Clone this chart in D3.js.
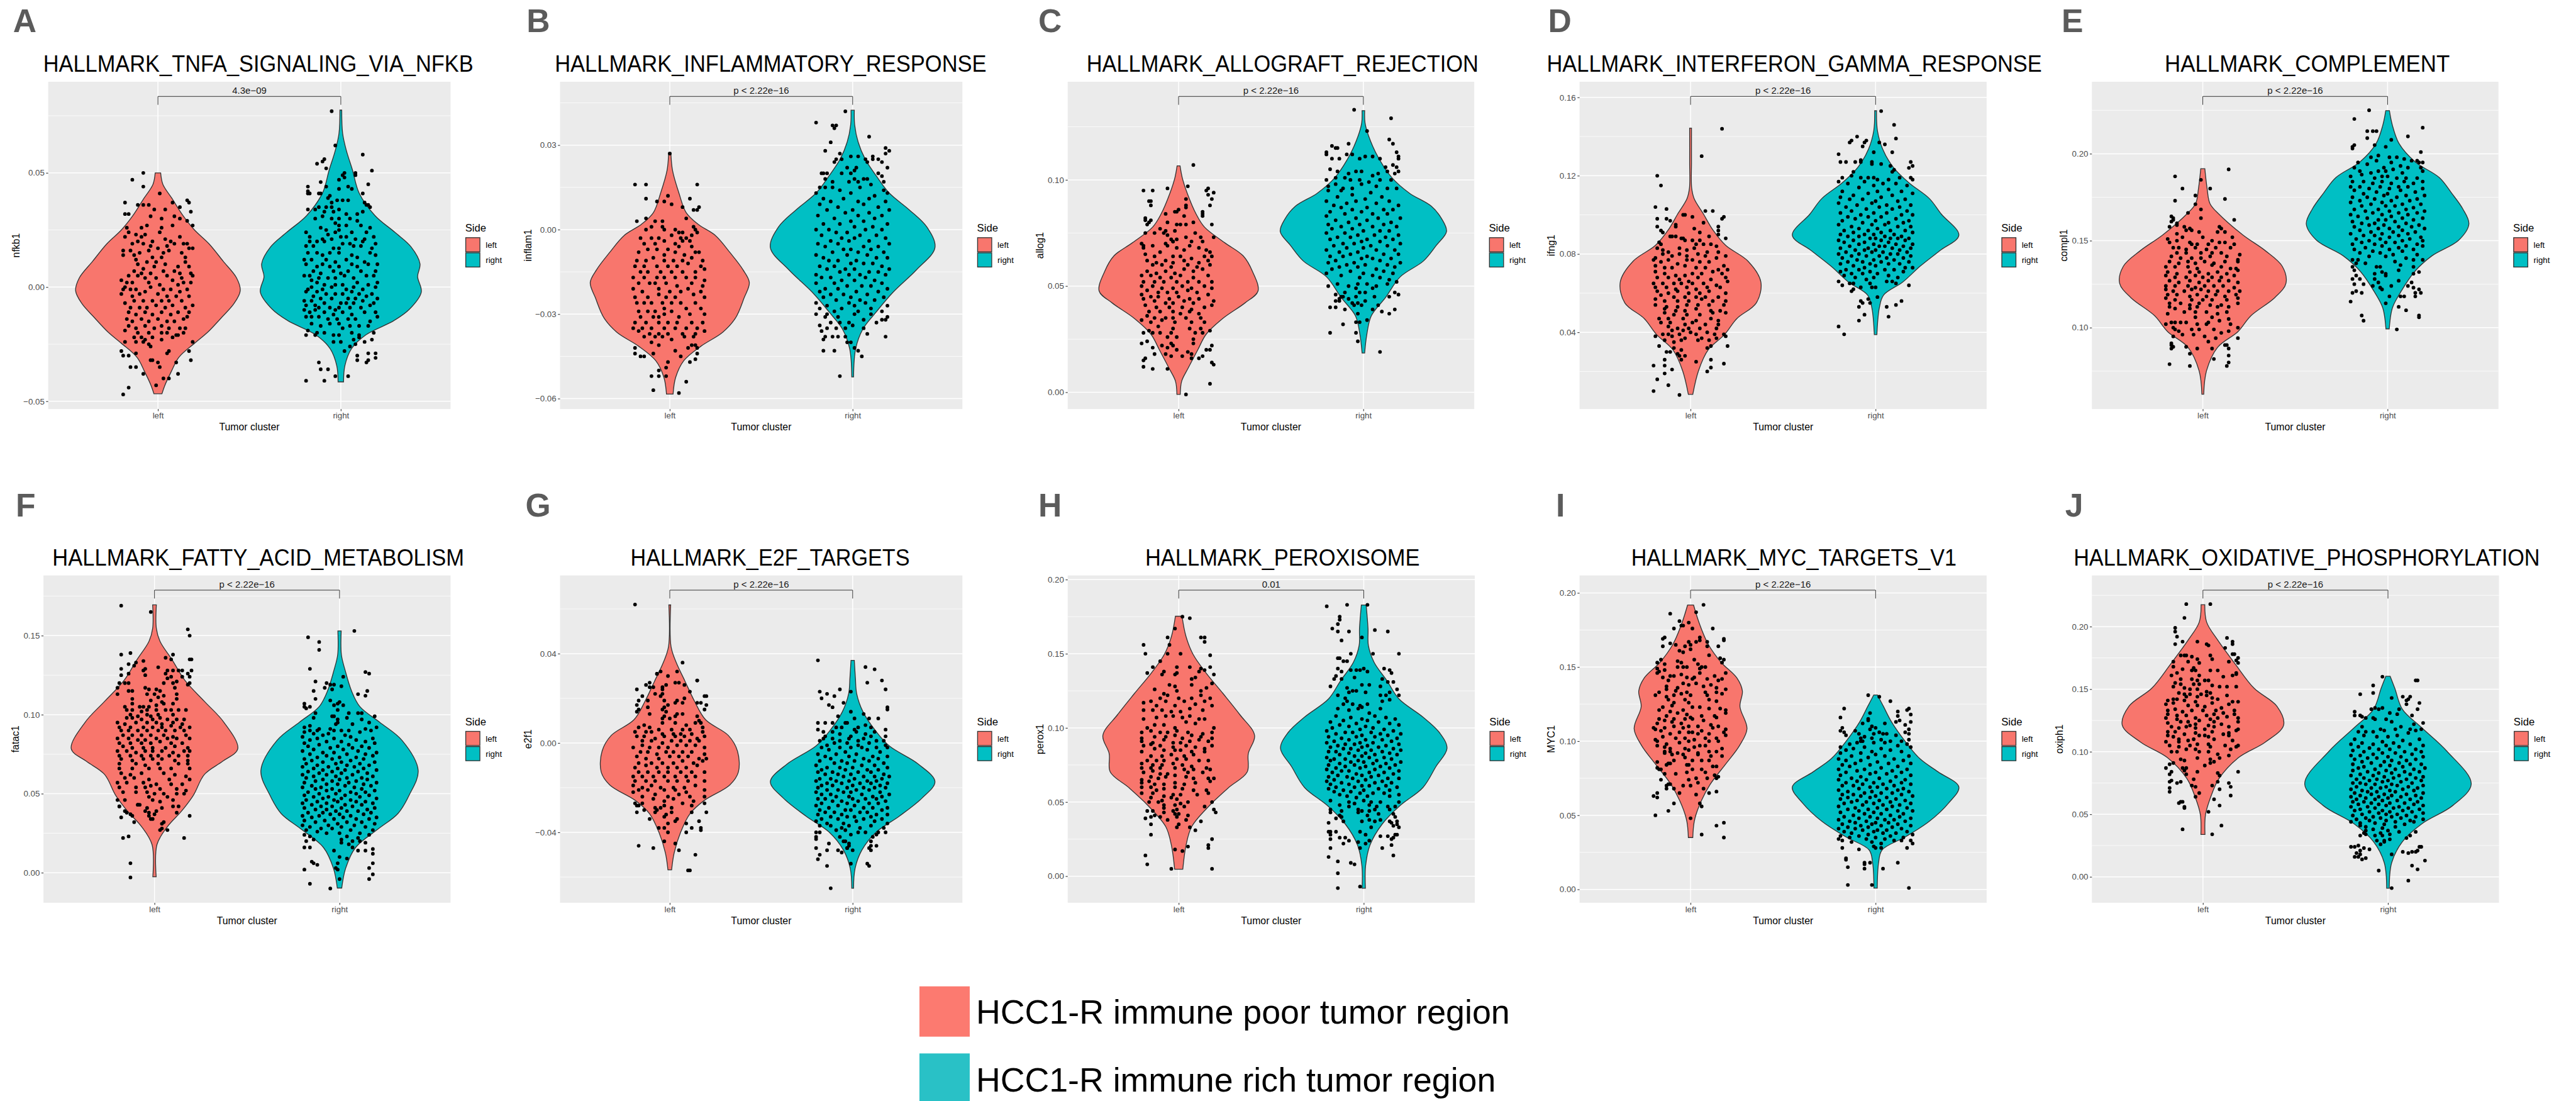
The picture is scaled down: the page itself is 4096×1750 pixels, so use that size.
<!DOCTYPE html>
<html lang="en">

<head>
  <meta charset="UTF-8">
  <title>Hallmark violins</title>
  <script src="https://d3js.org/d3.v7.min.js"></script>
  <style>
    html, body { margin: 0; padding: 0; background: #fff; }
    svg { display: block; }
    text { font-family: "Liberation Sans", Arial, sans-serif; }
  </style>
</head>

<body>
  <script>
    const letters = ["A", "B", "C", "D", "E", "F", "G", "H", "I", "J"];
    const titles = ["HALLMARK_TNFA_SIGNALING_VIA_NFKB", "HALLMARK_INFLAMMATORY_RESPONSE", "HALLMARK_ALLOGRAFT_REJECTION",
      "HALLMARK_INTERFERON_GAMMA_RESPONSE", "HALLMARK_COMPLEMENT", "HALLMARK_FATTY_ACID_METABOLISM", "HALLMARK_E2F_TARGETS",
      "HALLMARK_PEROXISOME", "HALLMARK_MYC_TARGETS_V1", "HALLMARK_OXIDATIVE_PHOSPHORYLATION"];
    const yLabels = ["nfkb1", "inflam1", "allog1", "ifng1", "compl1", "fatac1", "e2f1", "perox1", "MYC1", "oxiph1"];
    const pLabels = ["4.3e\u221209", "p < 2.22e\u221216", "p < 2.22e\u221216", "p < 2.22e\u221216", "p < 2.22e\u221216",
      "p < 2.22e\u221216", "p < 2.22e\u221216", "0.01", "p < 2.22e\u221216", "p < 2.22e\u221216"];
    const categories = ["left", "right"];
    const sideColors = ["#F8766D", "#00BFC4"];

    // y axes, values as on the picture
    const yDomains = [[-0.0534, 0.0899], [-0.0637, 0.0525], [-0.0079, 0.1462], [0.0008, 0.168], [0.0532, 0.2414],
      [-0.019, 0.1881], [-0.0715, 0.075], [-0.0179, 0.2028], [-0.009, 0.2118], [-0.0207, 0.2409]];
    const yTicks = [[-0.05, 0, 0.05], [-0.06, -0.03, 0, 0.03], [0, 0.05, 0.1], [0.04, 0.08, 0.12, 0.16], [0.1, 0.15, 0.2],
      [0, 0.05, 0.1, 0.15], [-0.04, 0, 0.04], [0, 0.05, 0.1, 0.15, 0.2], [0, 0.05, 0.1, 0.15, 0.2], [0, 0.05, 0.1, 0.15, 0.2]];
    const yMinor = [[-0.025, 0.025, 0.075], [-0.045, -0.015, 0.015, 0.045], [0.025, 0.075, 0.125], [0.02, 0.06, 0.1, 0.14],
      [0.075, 0.125, 0.175, 0.225], [0.025, 0.075, 0.125, 0.175], [-0.06, -0.02, 0.02, 0.06], [0.025, 0.075, 0.125, 0.175],
      [0.025, 0.075, 0.125, 0.175], [0.025, 0.075, 0.125, 0.175, 0.225]];

    // violin outlines: value (1e-3), half width (hundredths of the category gap), top to bottom
    const outlineALeft = [50,1.5, 45,2.7, 38.8,7.7, 31.3,13.7, 25,20, 18.9,28, 11.4,35.6, 4,43, -1.6,45, -7.2,41.6, -13.4,34.7, -19.6,27.4, -24.6,20, -30.8,11.4, -37,7.3, -43.2,3.7, -46.7,2.2];
    const outlineARight = [77.5,.5, 67.3,1, 59.9,3, 51.2,6.4, 41.2,10, 31.3,18.7, 23.9,29.7, 17.6,38.4, 10.2,43.3, 4.6,42, -2.2,44, -9.7,37.5, -14.7,29, -20.9,13.7, -27,5.8, -34.5,2.2, -41.5,1.5];
    const outlineBLeft = [27.4,.6, 21,1.5, 13,5, 6,9, 1.9,15.5, -2.1,25, -8.2,33, -14.2,40, -18.8,43.5, -24.3,40.6, -31.3,36, -36.4,29, -41.4,17, -46.5,7.7, -52.5,3.2, -58.4,1.8];
    const outlineBRight = [42.4,.9, 37.2,1.1, 31.1,3, 25.1,6.8, 19,13, 13,20, 7,31, .9,40.6, -6.4,45, -14.2,35, -22.3,22, -29.3,12.8, -35.4,5.5, -42.4,1.6, -52.3,.5];
    const outlineCLeft = [106.6,.8, 101,2, 93.7,4.7, 83.9,9.5, 77.8,14, 70.4,25, 64.2,35, 56.9,40, 47.7,43, 42.1,36, 34.8,24, 27.4,15, 20,10.4, 11.4,5.2, 5.3,1.7, -1,.9];
    const outlineCRight = [132.6,.7, 126.9,.9, 120.8,2.8, 111,7.8, 100.9,15.6, 93.7,25, 87.6,36.8, 81.5,42.5, 75.7,45, 69.2,39.5, 61.8,32.5, 54.4,20, 44.6,12, 36,4.3, 27.4,1.9, 18.5,.7];
    const outlineDLeft = [144.3,.5, 127,.5, 113.7,.6, 108.4,1.9, 100.4,7, 92.4,12, 84.4,19, 76.4,31, 65.7,38, 55,35.5, 47,25, 39,18.5, 31,9.5, 20.4,4.3, 8.3,1.2];
    const outlineDRight = [153.2,.5, 143,1, 133.7,3.8, 124.4,9.5, 116.4,18, 108.4,29, 100.4,35.5, 89.6,45, 81.7,34.7, 73.7,24, 65.7,14.7, 59,4.3, 52.4,2, 38.8,.7];
    const outlineELeft = [191.4,1.1, 180.3,2.3, 171.3,3.9, 165.3,8.7, 153.3,21.7, 144.3,33.8, 135.3,43, 125.5,45, 117.3,39, 106.8,26, 97.7,19, 88.7,8, 75.2,2, 61.7,.5];
    const outlineERight = [224.8,1, 216.4,2.6, 205.9,6.2, 195.3,15, 186.3,28, 177.3,34.7, 168.3,40.7, 159.6,44, 150.3,38.5, 141.3,24, 132.3,14.7, 120.3,7, 111.3,2.6, 99.3,.9];
    const outlineFLeft = [169.5,1, 154.6,1, 146.4,3, 134.8,9.5, 121.6,16.5, 108.4,27, 95.2,37.5, 78.4,45, 70.5,36.8, 62.2,27, 49,21, 39.1,14.7, 29.2,7, 17.7,1.3, -2.6,.9];
    const outlineFRight = [153,.9, 138,1, 128.2,3, 115,6.5, 105.1,11, 95.2,21.7, 83.7,33.8, 64.7,42.5, 49,37.6, 37.5,31.6, 27.6,20.8, 16,8.7, 2.8,3.3, -9.7,1.2];
    const outlineGLeft = [61.8,.5, 43.1,.7, 36.1,3.5, 27.9,8.2, 18.6,13.6, 10.4,19.6, 3.4,32, -3.6,37, -13,37.5, -18.8,32.8, -25.8,18.7, -31.7,11, -39.8,6, -49.2,2.4, -56.8,1];
    const outlineGRight = [37,.9, 29.1,1.5, 22.1,2.2, 13.9,5.7, 5.7,12.3, -1.3,20, -9.5,36, -17.3,45, -24.6,38, -32.8,25.4, -39.8,13, -48,5, -56.2,1.3, -65,.5];
    const outlineHLeft = [175.3,1.8, 161.8,3.9, 149.5,7.8, 137.2,14.7, 123.1,24, 109,33, 94.9,41, 82.7,37.6, 70.3,37, 59.8,27, 47.5,16.5, 33.4,7, 21.1,4, 4.7,2.2];
    const outlineHRight = [182.9,1.3, 167.1,2.3, 155.6,2.5, 144.2,5.6, 131.9,12.5, 119.6,19, 107.3,32, 96.7,41, 86.2,45, 73.9,39, 59.8,32, 47.5,19.5, 35.2,10, 21.1,3.4, 7,1, -8.1,.9];
    const outlineILeft = [191.9,1.6, 179.6,4.7, 165.5,9.5, 153.2,16.5, 142.7,25, 133.9,28, 123.3,26.7, 108.4,30.5, 96.9,26.4, 84.6,19, 70.5,10.4, 56.5,4.7, 45.9,2, 35,1.2];
    const outlineIRight = [131.2,1, 123.3,4.3, 112.8,8.7, 100.5,15.6, 88.1,24, 79.3,33.8, 69.1,45, 58.2,39.4, 45.9,29, 35.4,16, 26.6,3.5, 17.8,1.6, .9,.9];
    const outlineJLeft = [217.5,1, 203.6,2, 189.2,8, 170,17.5, 150.8,27.6, 136.3,40, 121.2,43.6, 107.5,33.5, 95.4,19.3, 78.6,8.7, 64.2,4.3, 49.8,1.4, 33.9,1.1];
    const outlineJRight = [160.3,1.2, 150.7,3.7, 133.9,7.8, 119.5,18, 100.2,32, 74.3,45, 57,35, 42.5,18.4, 28.1,7.8, 11.3,2, -9.1,.7];

    // jittered points: offset (hundredths of the category gap), value (1e-3)
    const dotsALeft = [-8,50,-14,47,-8,44,1,41,-18,37,16,38,17,37,8,37,12,35,-11,36,-8,36,-5,36,-18,32,-16,32,-2,34,4,34,18,33,-4,31,9,31,2,30,12,30,16,29,19,27,-17,26,-9,26,-6,27,2,26,8,27,-18,22,-16,24,-12,23,-9,22,-7,23,-3,20,1,24,4,21,12,22,14,19,16,19,-14,19,-11,20,-8,19,-4,18,5,18,9,19,7,20,17,17,19,17,-19,16,-15,16,-13,14,-10,15,-5,16,0,17,3,15,6,16,13,15,-19,14,-12,12,-3,13,-1,11,2,13,15,13,15,11,-11,10,-6,11,-2,9,4,10,11,9,17,9,-13,7,-8,8,-4,6,3,7,9,7,12,6,18,6,-16,5,-11,5,-9,6,-7,4,-1,4,5,5,13,4,19,5,-20,3,-17,2,-14,2,-5,2,1,1,8,3,11,1,14,2,18,2,-18,0,-15,-1,-12,-1,-4,0,3,-1,7,-1,12,-2,16,-1,-20,-3,-19,-1,-10,-3,-7,-2,0,-3,5,-4,10,-4,17,-4,-14,-4,-18,-7,-13,-6,-8,-6,-3,-6,2,-6,6,-6,13,-6,19,-8,-15,-9,-10,-9,-6,-9,-1,-8,4,-9,8,-8,15,-9,17,-11,-16,-11,-12,-12,-7,-11,-3,-12,2,-11,7,-12,11,-11,16,-13,-17,-14,-14,-15,-9,-14,-5,-15,0,-14,5,-15,9,-15,14,-14,-16,-17,-12,-18,-7,-17,-2,-18,2,-17,6,-18,12,-18,15,-18,-18,-19,-11,-20,-5,-20,2,-20,5,-20,10,-21,14,-20,-13,-22,-9,-22,-7,-23,-3,-22,2,-23,8,-22,11,-21,-18,-24,-12,-24,-8,-24,-5,-25,-4,-26,19,-24,-20,-28,-19,-30,-16,-30,-12,-29,6,-28,5,-29,17,-28,18,-32,-15,-35,-12,-35,-8,-38,-16,-44,-19,-47,-1,-43,3,-40,6,-40,11,-38,1,-35,0,-33,-4,-32,-3,-32,10,-33];
    const dotsARight = [-5,77,-3,62,12,58,-9,56,-10,55,-13,54,-8,52,17,51,1,49,2,50,8,50,8,49,2,48,-1,47,-11,46,15,45,-8,44,-18,44,4,44,-1,43,6,43,-18,42,-17,41,-18,41,12,41,-12,41,-11,41,-6,40,-7,39,-2,38,1,38,4,38,-5,37,13,37,14,36,15,36,16,35,-12,35,-8,35,-5,35,-1,34,-14,34,-18,34,-9,33,-4,33,3,32,9,32,12,33,-10,31,-5,30,-1,30,5,30,-14,30,9,29,-3,28,-1,27,3,27,11,27,16,26,-11,26,-8,25,-1,25,6,24,14,24,-19,24,-7,23,-3,24,-17,22,-10,21,-5,21,0,22,3,22,8,21,13,21,18,22,-17,20,-13,20,-9,20,1,19,5,19,12,20,19,19,-19,18,-15,18,-4,17,-1,17,7,18,11,18,17,17,-18,15,-13,15,-10,14,-6,15,-1,15,6,14,9,13,16,15,19,14,-20,12,-16,12,-8,12,-3,11,3,12,13,11,-19,10,-13,9,-10,10,-6,9,-1,9,6,10,9,9,15,10,20,10,-15,7,-11,6,-4,7,0,6,4,7,11,7,19,7,-20,5,-17,5,-12,4,-7,4,-3,4,2,5,7,4,14,5,18,5,-16,3,-13,2,-9,1,-3,1,1,1,9,2,15,1,20,2,-16,0,-10,-1,-5,0,3,-1,7,0,12,-1,19,0,-18,-1,-13,-2,-8,-3,-3,-3,1,-3,6,-2,10,-3,17,-3,-19,-2,-15,-4,-11,-5,-5,-5,4,-5,8,-5,14,-4,20,-5,-20,-6,-16,-6,-9,-7,0,-7,3,-7,7,-7,12,-6,18,-7,-19,-8,-14,-8,-12,-9,-6,-9,-3,-10,-1,-9,5,-9,11,-9,16,-8,-20,-10,-17,-11,-14,-10,-9,-11,-4,-12,1,-11,6,-12,13,-11,19,-11,-19,-13,-16,-13,-12,-13,-7,-14,-2,-14,4,-14,8,-14,16,-15,20,-13,-16,-16,-11,-17,-6,-16,-1,-16,1,-18,5,-17,10,-17,15,-17,-18,-19,-13,-20,-9,-20,-4,-21,-1,-21,6,-20,10,-21,18,-20,-19,-21,-14,-21,-4,-24,0,-24,7,-23,10,-22,13,-24,17,-23,5,-26,8,-25,-12,-33,-11,-36,-7,-36,-3,-39,-19,-41,-9,-41,4,-39,9,-32,9,-30,15,-29,15,-32,19,-31,19,-29,14,-33,2,-28];

    const dotsBLeft = [0,27,-19,16,-13,16,15,16,-13,11,11,11,-7,10,-3,10,-1,12,1,9,7,8,13,7,15,7,16,8,-13,4,-18,3,-8,3,9,4,-4,3,-4,1,13,1,14,0,-13,0,-10,1,-3,0,3,0,5,-1,7,-1,12,-2,15,-1,-16,-3,-10,-3,-6,-3,1,-2,6,-3,9,-3,-14,-5,-8,-5,-3,-4,3,-5,7,-4,11,-4,-12,-7,-7,-7,-1,-7,5,-6,12,-6,14,-8,-17,-8,-3,-9,3,-8,8,-9,16,-8,-18,-11,-13,-11,-9,-10,-3,-11,2,-11,7,-11,12,-10,18,-11,-19,-13,-14,-13,-7,-13,-1,-13,4,-13,10,-12,17,-13,-16,-15,-12,-15,-5,-15,1,-15,7,-15,14,-15,19,-14,-20,-17,-14,-17,-7,-17,-3,-17,3,-17,9,-17,14,-17,19,-18,-17,-19,-11,-19,-8,-19,-2,-19,4,-20,12,-19,18,-20,-20,-21,-15,-22,-6,-21,0,-22,6,-22,10,-21,17,-22,-19,-24,-12,-24,-6,-23,-2,-24,3,-24,13,-23,19,-24,-18,-26,-14,-26,-10,-26,-4,-26,1,-26,6,-26,14,-26,-17,-29,-12,-29,-8,-29,-3,-28,1,-29,9,-28,17,-28,-16,-31,-9,-31,-6,-31,-3,-30,5,-31,11,-30,19,-30,-19,-33,-13,-33,-6,-33,-1,-33,4,-33,12,-33,18,-33,-20,-35,-15,-35,-10,-35,-3,-35,3,-35,9,-35,15,-35,-17,-36,-11,-37,-6,-37,-1,-37,7,-37,14,-37,19,-36,-14,-38,-8,-38,-4,-38,1,-39,8,-38,13,-38,-10,-40,-6,-41,14,-41,12,-41,-19,-42,3,-43,10,-42,15,-42,-19,-44,-16,-45,-14,-45,-9,-44,6,-45,15,-44,14,-46,-1,-47,-6,-50,-10,-52,-6,-52,-2,-49,-2,-52,9,-54,-9,-57,5,-58,11,-47];
    const dotsBRight = [-4,42,-20,38,-11,37,-9,37,-10,36,-12,31,-15,28,9,33,-7,27,-1,26,3,26,7,25,-9,25,-10,24,-3,22,-6,25,8,24,18,29,20,28,18,27,11,26,11,25,14,25,16,24,19,22,-17,20,-16,20,-14,20,-6,20,2,22,1,21,-1,20,14,20,16,19,1,18,6,18,-15,18,8,18,17,17,-11,17,-2,17,3,17,10,16,-18,15,-15,15,-11,15,-7,14,4,15,17,14,-20,13,-1,13,12,12,19,13,9,11,-16,11,-5,11,3,10,-12,10,18,10,-18,9,6,9,-8,8,14,8,0,7,-14,7,20,7,9,6,-4,6,-19,5,3,5,16,5,-10,4,12,4,-1,3,6,3,-16,2,19,2,-7,2,1,1,11,1,-13,0,-20,0,7,0,16,0,-3,-1,-9,-1,4,-2,13,-2,-17,-2,-6,-3,18,-3,1,-3,9,-4,-12,-4,-2,-4,20,-5,-19,-5,-8,-5,6,-6,14,-6,-15,-6,-1,-7,10,-7,-5,-7,17,-8,-11,-8,3,-8,-20,-9,8,-9,-3,-9,13,-10,-16,-10,19,-10,-8,-11,2,-11,-13,-11,11,-12,-1,-12,6,-12,16,-13,-18,-13,-10,-13,-4,-14,20,-14,1,-14,-14,-14,9,-15,14,-15,-7,-15,-20,-16,4,-16,-2,-16,18,-16,-12,-17,7,-17,-17,-17,12,-18,1,-18,-6,-18,16,-19,-10,-19,-20,-19,5,-20,-3,-20,10,-20,-15,-21,19,-21,-8,-21,2,-22,14,-22,-18,-22,-5,-23,8,-23,-12,-23,-1,-24,17,-24,-16,-24,4,-25,12,-25,-9,-25,-20,-26,-2,-26,7,-26,19,-27,-14,-27,1,-27,-6,-28,10,-28,-18,-28,16,-29,-10,-29,3,-29,-20,-30,-15,-31,-14,-30,1,-30,10,-30,19,-31,-12,-33,-8,-31,-7,-33,-2,-33,6,-32,13,-33,16,-32,18,-32,-18,-34,-14,-35,-9,-35,-4,-35,0,-34,6,-35,-17,-36,-15,-38,-11,-38,-8,-38,-4,-38,-1,-40,8,-37,-16,-39,18,-38,1,-42,-3,-40,-16,-43,-10,-43,3,-43,5,-45,-7,-52];

    const dotsCLeft = [8,107,5,97,-19,95,-6,96,16,96,15,95,-14,95,16,93,19,94,18,91,-16,90,-15,90,4,91,17,88,-15,88,4,88,4,87,-0,86,13,85,-2,85,-1,85,-7,84,13,84,-18,82,-18,81,-15,81,3,83,13,83,-16,80,-17,79,4,79,18,79,-6,80,-1,79,1,79,8,80,-10,77,-18,75,-7,76,-2,76,-8,75,-13,75,-6,74,9,75,12,73,-1,72,-4,72,4,73,-3,71,-20,70,-19,69,-7,70,-3,71,7,71,13,71,19,73,-19,68,-14,69,-6,69,-1,68,3,67,6,69,11,68,15,67,17,66,-18,65,-13,64,-10,66,-3,64,1,64,7,63,14,64,18,64,-17,62,-12,61,-7,62,-3,61,3,62,11,61,16,62,-14,60,-9,60,-4,59,5,60,10,59,17,60,-17,57,-12,56,-7,57,-2,56,3,58,8,57,13,58,-20,55,-15,55,-10,54,-4,54,1,55,8,54,16,55,-19,52,-13,52,-8,52,-1,52,5,52,11,52,18,52,-20,50,-14,50,-9,49,-3,49,2,50,7,49,14,50,18,49,-17,48,-11,47,-6,47,-1,47,5,48,10,47,16,46,-20,46,-15,45,-11,45,-5,44,0,45,6,44,11,44,-19,44,-13,43,-7,42,-3,42,3,43,8,42,19,43,-18,41,-12,40,-5,40,2,40,7,39,14,40,18,41,-16,38,-10,38,-3,38,1,37,6,38,11,37,-17,36,-13,35,-7,35,-3,35,4,35,12,35,-20,34,-15,33,-9,34,-2,33,7,33,14,33,-11,31,-3,30,6,30,12,30,-19,28,-16,29,-14,28,-10,28,-4,28,9,28,13,28,17,29,-6,26,8,25,-1,26,-20,23,-17,24,-9,22,-4,23,8,23,18,22,-14,21,-6,21,-3,22,5,19,7,18,15,20,17,20,-18,16,-19,15,-7,18,-1,20,-13,18,-4,17,2,17,7,16,11,16,13,17,18,14,-19,12,-14,11,-6,11,19,13,17,4,4,-1];
    const dotsCRight = [-5,133,15,129,2,123,14,119,-8,117,16,117,-17,116,-15,115,-14,115,-20,113,-20,112,-17,110,-13,110,-9,112,-6,112,-2,110,1,111,5,111,18,113,19,111,19,110,9,110,12,106,16,107,18,106,-18,105,-14,104,-8,103,-4,104,-1,104,5,102,8,103,19,104,17,103,13,104,-20,100,-15,101,-10,101,-7,100,-2,100,3,99,9,100,15,100,-19,97,-15,98,-11,96,-6,96,-1,98,7,97,13,96,-19,95,-12,95,-6,93,4,94,18,96,-14,92,1,91,10,92,-20,90,-4,90,14,90,7,89,-9,89,19,88,-16,88,2,87,-12,87,11,86,-6,86,16,86,-18,85,-1,85,5,84,-10,84,13,84,-20,83,20,82,-4,82,8,82,-15,81,2,81,-8,80,15,80,-19,79,11,79,-2,79,18,78,-12,78,5,78,-6,77,-17,77,9,76,0,76,14,76,-20,75,-10,75,-3,74,19,74,6,74,-14,73,12,73,-7,73,2,72,-18,72,16,72,-1,71,9,71,-11,70,-5,70,20,70,4,69,-16,69,13,69,-9,68,0,68,-20,67,17,67,7,67,-13,66,-3,66,11,65,-7,65,19,65,-18,64,2,64,-11,64,15,63,5,63,-1,63,-15,62,9,62,-5,61,20,61,-19,61,13,60,-9,60,1,60,17,59,-13,59,-3,59,7,58,-17,58,11,57,-7,57,0,56,16,56,-20,56,5,55,-12,55,-2,54,9,54,14,53,-14,51,-8,50,-3,51,2,51,7,50,13,51,-19,50,-4,49,5,49,18,52,-10,47,-2,47,1,47,-15,46,-12,45,-8,44,-4,45,6,45,14,45,17,47,19,46,-13,44,-3,42,1,43,-18,40,-15,40,-10,39,5,39,8,41,10,38,14,37,17,39,-3,37,2,34,-4,33,-2,33,-11,32,-18,28,-4,28,-3,24,9,19,-15,43,-13,43,-11,45,-6,42,-5,41,-1,41];

    const dotsDLeft = [17,144,6,130,-18,120,-16,115,-19,104,-13,103,8,102,12,102,-4,100,-3,100,1,99,-18,98,-13,98,18,99,17,98,-11,97,7,96,-8,95,-8,94,15,94,15,92,-18,94,-16,92,-15,91,2,93,-11,89,-10,89,-8,89,-5,88,-4,88,5,91,10,89,15,90,19,88,-17,86,-16,85,-3,87,1,87,5,87,3,85,-18,83,-6,83,2,83,7,85,11,85,14,84,-15,82,-12,81,-2,82,4,80,9,81,15,81,-19,78,-15,80,-10,79,-6,80,-2,79,1,77,8,79,14,78,19,79,-20,77,-16,76,-12,77,-7,75,-2,77,5,76,10,76,18,74,-19,74,-14,73,-10,73,-3,74,3,73,8,73,15,72,20,72,-19,71,-14,70,-8,69,-3,69,1,70,6,70,12,71,17,70,-18,68,-12,68,-6,67,-1,66,4,68,11,67,19,68,-20,65,-15,65,-9,65,-5,65,1,65,7,65,14,64,20,66,-19,63,-13,63,-8,62,-2,63,3,62,9,63,16,63,-18,61,-12,60,-7,61,-1,60,5,60,10,61,19,60,-16,59,-9,58,-3,58,3,58,8,58,15,58,-19,57,-14,56,-7,56,-1,56,6,57,12,56,19,56,-19,54,-13,53,-7,53,-2,54,4,54,10,54,18,54,-14,52,-8,51,-3,51,3,52,11,51,16,51,-14,50,-9,49,-2,49,5,49,12,50,19,50,-17,47,-12,47,-4,47,3,46,11,47,15,46,-16,45,-11,45,-3,44,1,45,8,44,15,44,-12,43,-7,42,-1,42,5,42,14,42,-10,41,-4,41,0,40,9,40,-12,39,-6,39,3,39,13,39,-19,38,-15,39,-10,38,-3,37,6,37,14,37,19,38,18,39,-14,36,-9,35,-5,36,4,36,10,36,-17,33,-9,32,-5,31,9,32,11,33,20,33,-13,30,-11,30,-7,29,-6,28,-3,28,-5,26,11,26,3,25,-20,23,-14,26,-14,23,11,22,18,24,-14,19,-10,21,-18,16,9,20,-12,13,-20,10,-6,8];
    const dotsDRight = [3,153,10,146,11,139,-10,140,-14,137,-6,137,-7,135,-5,138,-13,138,2,137,5,136,9,132,-20,131,-1,132,-8,128,-8,127,-11,127,-16,127,-19,127,-2,127,-2,126,3,126,8,125,19,127,18,124,20,125,10,123,-12,122,-18,119,-13,120,-1,119,9,122,-8,119,-4,119,1,118,7,118,13,119,19,119,20,118,-20,117,-6,117,4,116,-15,116,11,116,-1,115,17,115,-9,114,7,113,-18,112,1,112,14,112,-4,111,20,111,-12,110,9,110,-19,109,3,109,-7,108,16,108,-14,108,0,107,12,107,-2,106,-20,106,6,105,19,105,-10,105,-16,104,13,104,2,104,-5,103,9,103,-13,102,17,102,-19,101,-1,101,6,101,-8,100,14,100,20,100,-15,99,3,99,-4,99,11,98,-11,98,18,97,-18,97,0,97,7,96,-7,96,15,96,-2,95,-20,95,5,95,-13,94,12,94,19,94,-9,93,1,93,-17,92,8,92,-4,92,16,92,-12,91,3,91,20,91,-6,90,-19,90,10,90,-1,90,14,89,-15,89,5,89,-9,89,18,88,0,88,-3,88,8,88,12,88,-20,87,-12,87,3,87,16,87,-6,86,7,86,-17,86,-1,85,11,85,20,85,-9,85,2,84,-14,84,15,84,5,84,-4,83,19,83,-19,83,9,83,-11,82,0,82,13,82,-6,82,4,81,-16,81,17,81,-2,81,8,80,-9,80,-20,80,12,80,2,79,-13,79,19,79,-5,79,6,78,-18,78,15,78,-1,77,-10,77,10,77,-15,76,3,76,18,76,-7,76,-3,75,13,75,-19,75,7,75,-12,74,0,74,16,73,-6,73,20,73,-16,72,5,72,-9,72,10,72,-19,71,-3,71,15,71,-13,70,1,70,-7,70,7,69,-17,69,-11,68,-1,68,12,68,-5,67,-20,66,-14,65,-12,65,-3,65,6,66,9,66,11,65,-12,62,-8,63,-2,63,0,63,-13,61,-18,64,18,64,1,58,-4,57,-8,56,-7,55,-9,53,-3,55,6,53,11,54,14,56,-6,49,7,48,-9,46,-20,43,-17,39];

    const dotsELeft = [14,191,-15,187,-1,185,4,180,-11,180,12,174,-4,176,-15,173,-4,171,-1,168,-8,166,-17,164,-16,163,-17,161,-14,160,-16,162,17,162,-1,163,9,158,-18,158,10,157,-14,159,-10,158,-7,157,-6,156,12,155,8,155,-2,155,-9,156,-14,154,16,152,0,152,-11,152,-7,149,-19,151,-18,149,-14,150,5,150,9,149,3,148,-6,148,-3,148,12,149,17,148,-16,146,-13,146,-9,145,-4,146,2,145,7,146,15,146,-14,143,-9,143,-1,143,5,143,10,143,20,142,-17,141,-12,140,-6,140,-1,140,4,141,13,141,19,139,-18,138,-13,137,-8,138,-4,137,1,138,6,137,12,138,19,138,-20,135,-15,135,-8,135,-3,134,5,136,10,135,15,134,18,134,-19,132,-14,131,-7,132,-2,132,3,131,8,132,13,131,19,133,-20,130,-15,129,-9,129,-4,130,0,129,5,129,10,129,17,130,-18,127,-13,126,-7,127,-2,126,3,127,9,127,14,127,19,126,-20,124,-15,124,-8,124,-4,123,1,124,6,124,11,124,17,123,-20,122,-16,121,-10,121,-6,122,-1,122,3,121,8,121,14,121,20,121,-19,119,-14,119,-7,118,-3,119,2,118,7,119,12,118,18,119,-20,117,-15,116,-6,116,0,116,5,116,13,116,19,117,-18,114,-12,114,-7,113,-2,114,4,113,10,113,19,114,-18,112,-15,111,-7,111,-3,112,8,112,14,112,-19,108,-10,109,-4,109,2,109,8,108,13,109,-4,106,5,106,14,105,3,103,9,104,-20,102,-17,103,-15,103,-12,103,-9,103,-3,102,2,102,15,102,19,100,-16,100,-15,99,-13,98,-6,99,-2,99,6,99,14,98,10,97,-16,95,-11,96,-5,96,1,95,7,94,-17,91,-17,90,3,92,12,90,19,94,-16,89,-9,89,-3,88,5,88,13,90,-17,88,-7,85,6,82,14,88,14,84,14,80,-18,79,-7,78,13,78];
    const dotsERight = [-10,225,-18,220,-8,213,-11,213,-6,213,19,215,11,210,-11,209,2,208,-19,204,-18,205,-19,203,-7,205,-1,204,18,201,-9,198,-5,199,1,198,-6,196,5,198,9,197,-16,195,2,195,13,196,16,196,17,195,19,195,-18,192,-11,194,-2,192,7,193,11,192,18,192,-15,190,-9,189,-5,190,-1,190,3,191,8,189,19,190,-20,187,-14,188,-7,186,-3,187,0,187,5,186,10,186,16,186,-19,184,-13,184,9,184,-3,184,19,184,-8,183,14,183,2,183,-20,181,6,181,-15,181,-4,181,11,181,1,180,-10,180,19,180,-18,179,7,179,-6,178,15,178,-13,177,0,177,-2,176,20,176,10,176,-19,175,5,175,-11,175,16,174,-7,174,-15,173,2,173,12,173,-3,172,-20,172,8,171,18,171,-9,171,-14,170,4,170,-1,170,14,169,-5,168,-18,168,10,168,1,167,20,167,-12,167,6,166,-8,166,16,166,-20,165,-3,165,11,165,-16,164,2,164,-11,163,8,163,19,163,-5,162,14,162,-1,162,-19,161,4,161,-14,160,10,160,-7,160,17,159,-2,159,-10,159,6,158,-18,158,13,158,1,157,-5,157,20,157,-15,156,8,156,-9,155,3,155,15,155,-20,154,-3,154,11,154,-13,153,6,153,-7,153,18,152,1,152,-17,151,12,151,-4,151,-10,150,8,150,19,150,-1,149,-14,149,4,149,16,148,-19,148,-7,148,10,147,-3,147,-12,146,6,146,19,147,-18,145,1,145,14,145,-8,144,8,144,-4,143,-15,143,16,142,3,142,-10,141,-1,141,-19,139,-16,139,10,140,4,138,14,139,19,139,-17,137,-12,137,-6,135,-4,135,7,136,14,135,-19,135,-18,133,-7,131,-3,132,-1,131,6,133,14,131,17,132,-17,130,-19,128,-15,128,-7,128,-5,126,-1,130,6,127,13,126,-18,125,-13,125,-8,124,-4,123,2,124,11,124,14,123,17,122,-19,120,-14,120,-17,121,-3,122,1,118,7,118,9,118,15,118,15,120,18,120,-20,115,-1,114,6,112,10,110,17,107,17,106,-14,107,-13,104,5,99];

    const dotsFLeft = [-18,169,-2,165,18,154,19,150,-13,139,-18,138,10,138,6,136,9,135,19,135,20,135,-10,133,-14,132,-18,129,-6,134,-11,131,2,130,-5,129,-6,128,7,128,10,128,13,128,15,128,20,128,-18,125,-14,126,6,126,18,126,-5,125,7,123,9,124,15,124,19,124,-19,120,-16,120,-14,120,5,120,10,120,12,121,19,120,18,119,-20,117,-5,117,-3,116,1,116,3,115,11,117,-14,115,-12,115,-20,113,-12,110,-4,113,0,113,2,111,5,112,12,113,-12,107,-2,109,4,108,12,110,-16,105,-8,105,-6,105,-3,105,1,106,5,107,10,107,-15,103,-12,103,-7,102,-4,103,1,103,6,103,9,103,13,103,17,103,-13,100,-9,99,-4,100,-2,99,2,100,10,100,-15,98,-12,98,-7,97,-1,97,3,98,7,97,12,97,16,97,-20,95,-16,94,-10,95,-4,95,1,95,4,94,10,95,15,94,-19,92,-13,92,-6,92,-1,92,4,92,9,93,14,92,19,92,-18,90,-14,90,-9,90,-4,90,2,90,6,90,11,90,16,90,-17,87,-12,87,-7,87,-2,87,5,87,10,86,17,87,-20,85,-14,85,-9,84,-5,84,1,85,7,85,12,85,19,85,-19,82,-13,82,-7,82,-2,82,3,83,9,82,15,82,-17,80,-12,79,-6,79,-1,79,6,79,11,80,18,79,-20,77,-15,77,-10,76,-5,77,-1,77,4,77,10,76,16,77,19,77,-19,74,-13,74,-7,74,-2,74,2,74,8,74,13,74,18,74,-18,72,-12,71,-6,72,-1,72,4,72,11,71,18,71,-19,69,-10,69,-5,68,2,69,13,69,18,69,-19,66,-12,66,-3,66,3,66,9,66,19,66,-18,63,-13,62,-7,63,5,63,11,62,17,61,-16,60,-11,60,-3,59,8,59,19,59,-20,57,-15,57,-6,57,1,56,9,56,15,56,-19,54,-10,54,-5,54,-2,55,3,53,12,53,17,52,-17,51,-10,51,-4,51,0,50,5,50,12,50,16,50,-3,48,7,48,-20,46,-16,46,-1,46,3,45,10,46,-9,43,-8,43,-4,41,4,41,-19,42,-9,43,10,42,13,42,-5,39,-3,38,1,39,-16,39,-15,38,-12,36,-3,36,12,38,-13,37,-18,35,-2,34,-1,34,19,36,-11,32,0,37,5,32,4,31,4,28,7,27,-17,22,-14,23,16,22,-13,6,-13,-3,3,27,-19,42];
    const dotsFRight = [8,153,-17,149,-11,146,-11,141,-16,129,14,127,16,126,2,124,-13,121,-7,120,-5,119,-3,119,-8,117,1,118,-14,115,-4,116,15,115,10,113,14,112,-13,110,-19,107,-19,105,-18,104,-16,105,-5,109,0,108,-3,106,-1,107,2,106,-13,101,-1,103,5,101,10,101,12,101,19,99,-14,98,-4,99,-3,99,-1,97,4,98,12,97,-1,95,7,94,16,95,-16,93,-11,91,-2,94,-19,92,-16,90,-12,90,-5,91,-3,90,1,90,5,90,14,91,20,92,-19,89,-14,88,-9,87,-6,88,3,87,11,89,17,90,-20,86,6,86,-12,85,18,85,-3,85,-16,84,9,84,14,83,-7,83,1,83,-19,82,19,82,-11,81,5,81,-1,80,12,80,-17,80,7,79,-5,79,16,79,-14,78,2,78,-20,77,10,77,-9,76,20,76,-3,76,14,75,-16,75,4,75,-7,74,18,74,-12,73,0,73,9,73,-19,72,-4,72,13,72,-15,71,6,71,-9,70,19,70,1,70,-2,69,-18,69,11,69,-12,68,16,68,4,68,-6,67,-20,67,8,67,-14,66,-1,66,13,66,20,65,-9,65,3,65,-17,64,-4,64,10,64,15,63,-11,63,1,63,-20,62,7,62,-7,62,18,61,-14,61,-2,61,12,60,4,60,-18,60,-9,59,15,59,0,59,-4,58,9,58,-13,58,20,57,-19,57,5,57,-7,56,13,56,-1,56,-15,55,17,55,3,55,-10,54,8,54,-20,54,-4,53,12,53,-13,53,0,52,19,52,-7,52,6,51,-17,51,14,51,-2,50,-11,50,9,50,3,49,-19,49,16,49,-6,48,-14,48,11,48,1,47,-9,47,20,47,-3,46,6,46,-18,46,14,45,-12,45,-1,45,9,45,-7,44,-20,44,18,44,3,43,-15,43,12,43,-4,42,7,42,-10,42,1,41,19,41,-19,41,-7,40,15,40,-13,40,4,39,-2,39,10,39,-17,38,-9,38,17,38,0,37,-5,37,13,37,-20,36,6,36,-11,36,20,35,-15,35,2,35,-3,34,9,34,16,34,-8,33,-19,33,4,32,-13,32,12,32,-1,31,19,31,-6,30,-20,30,8,30,-16,29,1,29,14,29,-10,28,-4,28,-18,27,6,27,18,27,-12,26,0,25,11,25,-7,25,-19,24,16,24,4,23,-16,23,1,21,10,22,-18,20,-14,21,1,19,7,20,11,20,14,19,-19,16,-16,16,-3,14,5,18,7,16,10,14,14,14,18,15,0,10,4,9,-15,7,-14,6,-12,5,-1,6,18,12,-19,2,-2,3,16,3,18,6,16,-4,18,-1,-16,-7,-5,-10,0,-4,-1,2];

    const dotsGLeft = [-19,62,7,36,-5,32,-1,30,-7,31,4,32,-7,31,15,28,15,28,-11,27,-13,26,-9,25,3,27,5,27,8,26,-2,26,-4,25,-11,25,-18,24,-4,24,11,23,-4,22,-15,21,-5,21,-8,22,20,21,19,21,8,20,-17,19,-12,19,-3,19,4,19,7,18,-18,17,-12,16,-1,17,-3,16,3,18,15,18,17,18,20,17,-17,15,-4,15,-2,14,4,13,7,13,19,15,-18,14,-11,13,-3,12,3,12,0,11,15,12,-4,11,16,10,-14,8,-4,9,3,9,9,8,14,9,17,9,-17,7,-11,7,-6,6,1,6,7,6,11,6,18,7,-19,5,-13,5,-10,5,-4,4,2,4,6,4,12,4,18,5,-18,3,-14,3,-8,2,-3,3,3,3,8,3,15,2,19,3,-15,1,-10,1,-4,0,1,1,6,1,11,1,16,1,-20,-2,-15,-1,-11,-2,-6,-2,-1,-2,4,-1,9,-1,14,-1,19,-2,-16,-4,-12,-4,-7,-5,-2,-4,2,-4,7,-4,12,-4,19,-5,-18,-6,-13,-7,-6,-7,0,-6,5,-6,10,-6,16,-7,20,-7,-17,-9,-10,-9,-4,-9,2,-9,7,-8,13,-9,18,-8,-19,-11,-13,-10,-7,-11,-1,-11,4,-11,9,-11,15,-10,-17,-13,-12,-13,-6,-13,-1,-13,6,-13,12,-13,19,-13,-20,-15,-15,-15,-9,-15,-3,-15,3,-15,9,-15,14,-15,-19,-17,-13,-17,-8,-17,-1,-17,4,-17,10,-17,19,-17,-20,-19,-15,-20,-10,-19,-5,-20,2,-20,8,-20,14,-19,-17,-21,-12,-21,-3,-21,3,-21,9,-22,19,-21,-20,-22,-15,-24,-8,-23,-1,-24,5,-23,11,-24,19,-24,-9,-25,-3,-26,2,-25,13,-26,-19,-27,-18,-28,-15,-27,-3,-28,7,-27,19,-27,-17,-28,-8,-29,-5,-29,1,-29,12,-28,-14,-30,-8,-31,-7,-30,-2,-32,1,-31,12,-31,20,-31,-18,-31,-3,-33,4,-34,-11,-34,-1,-36,3,-35,9,-36,16,-35,-6,-38,-3,-38,-1,-40,9,-40,12,-38,17,-38,17,-39,-3,-44,3,-45,-17,-46,-9,-47,5,-48,14,-50,10,-57,11,-57];
    const dotsGRight = [-19,37,7,34,12,33,8,27,16,28,18,24,-18,23,-7,24,-14,22,-10,21,-1,23,-17,20,-11,16,-13,17,-5,18,19,16,19,15,-1,14,6,13,-8,12,-11,9,-15,9,-19,9,1,11,9,11,14,11,-4,9,-3,9,7,8,-9,7,-6,7,1,6,3,7,10,7,18,6,-19,6,-16,5,-11,5,2,5,7,4,12,5,-15,3,-7,4,-1,3,-2,2,10,3,18,3,-16,2,-11,2,-7,1,3,1,6,2,13,1,17,1,-18,1,-14,-1,-10,0,-3,0,3,-1,9,0,18,-1,-17,-2,-7,-2,-1,-2,5,-2,13,-2,19,-2,-13,-3,8,-3,-4,-4,15,-4,-19,-5,2,-5,-9,-5,11,-6,-15,-6,19,-6,-2,-6,6,-7,-12,-7,14,-7,-6,-8,-18,-8,1,-8,9,-8,17,-9,-10,-9,-3,-9,12,-10,-20,-10,5,-10,-14,-11,-7,-11,19,-11,0,-11,8,-12,-17,-12,14,-12,-4,-12,-11,-13,3,-13,-19,-13,10,-13,17,-14,-8,-14,-1,-14,-15,-14,6,-15,20,-15,-5,-15,12,-15,-12,-16,1,-16,-18,-16,16,-16,8,-17,-9,-17,-2,-17,-20,-17,13,-17,4,-18,-14,-18,19,-18,-6,-18,10,-18,-17,-19,0,-19,15,-19,-11,-19,6,-20,-3,-20,-19,-20,12,-20,18,-20,-8,-21,2,-21,-14,-21,9,-21,-1,-22,-20,-22,15,-22,-5,-22,5,-23,-12,-23,20,-23,-17,-23,11,-24,-2,-24,-9,-24,16,-24,7,-25,-15,-25,0,-25,-19,-25,13,-25,-6,-26,3,-26,18,-26,-11,-26,9,-27,-3,-27,-17,-27,14,-27,-8,-28,1,-28,-20,-28,6,-29,19,-29,-13,-29,11,-29,-4,-30,-18,-30,16,-30,-1,-30,4,-31,-10,-31,8,-31,-15,-31,13,-32,-6,-32,19,-32,-19,-32,1,-33,-12,-33,-3,-33,10,-33,6,-34,-17,-34,16,-34,-8,-34,-20,-35,2,-35,12,-35,-14,-36,-5,-36,19,-36,-18,-37,-12,-37,-6,-38,-2,-37,4,-38,10,-37,17,-38,-20,-40,-18,-40,-9,-39,-4,-39,-1,-41,3,-40,7,-40,14,-40,18,-40,-7,-42,-5,-44,-4,-44,-2,-45,10,-44,11,-42,13,-41,-20,-43,-20,-42,-13,-45,-2,-46,-3,-47,10,-46,13,-46,-20,-47,-14,-48,-8,-48,-6,-49,-3,-47,0,-48,9,-47,10,-48,-19,-52,-18,-50,-14,-55,-1,-54,8,-54,9,-55,-12,-65];

    const dotsHLeft = [2,175,6,174,-2,167,-6,161,12,161,14,161,14,158,-5,156,-19,156,-18,150,-6,150,1,150,17,149,-10,145,-1,141,6,141,12,140,-14,141,-17,137,-9,136,-8,138,-2,136,-1,137,11,138,17,141,19,136,14,139,9,134,7,133,-5,129,-2,128,-1,125,7,129,12,125,15,127,18,130,-13,126,-8,123,-10,120,-6,122,0,120,7,120,12,122,17,120,-19,117,-15,118,-12,115,-7,118,-2,115,3,118,9,116,14,118,18,115,-19,112,-14,112,-9,112,-4,111,1,111,6,113,13,112,-19,106,-12,107,-7,108,-3,108,2,107,6,108,11,106,14,106,-17,100,-13,102,-8,102,-2,100,4,104,9,103,19,100,-20,97,-15,98,-10,97,-6,97,-1,98,5,97,13,96,18,97,-20,93,-13,94,-7,94,-2,95,2,93,7,95,12,94,18,93,-20,91,-14,90,-8,92,-3,90,1,90,6,91,11,92,16,91,-19,88,-15,89,-10,88,-3,87,4,88,9,87,14,86,18,88,-20,84,-13,86,-8,85,-2,85,1,85,7,84,14,84,-15,81,-9,81,-4,82,3,81,8,82,-17,78,-12,78,-8,78,-1,79,4,79,11,78,16,78,-20,76,-14,75,-9,75,-3,76,2,75,7,74,-20,73,-15,73,-10,73,-2,73,3,72,8,72,15,73,-19,70,-14,71,-10,69,-6,69,-2,68,5,70,13,70,17,72,-20,65,-15,67,-11,66,-7,67,4,67,8,66,16,66,19,66,-20,63,-16,64,-13,62,-8,62,-2,63,3,62,9,63,17,64,-20,60,-15,60,-12,58,-8,59,-2,60,2,59,8,58,15,58,-20,56,-14,56,-8,54,-3,55,1,55,10,55,16,56,-15,53,-9,51,-4,53,-1,52,5,50,18,50,-16,50,-11,50,-8,48,-2,48,1,49,3,47,-8,46,-3,44,-1,45,14,47,19,45,-17,44,-14,44,-8,43,-2,42,-0,42,5,41,20,43,-18,39,-15,40,-13,41,-10,40,-6,38,-1,40,4,38,12,37,-15,35,0,35,-1,33,6,33,9,31,-15,28,18,25,16,21,16,19,-2,18,2,17,5,20,-18,14,-17,8,-4,5,18,5];
    const dotsHRight = [-20,182,-9,183,2,183,-13,175,-13,173,-14,170,-17,167,-14,165,-8,165,6,166,13,165,-1,161,-12,159,-7,150,5,150,19,150,-13,147,-14,147,-11,145,-9,145,-14,140,-12,138,-7,139,-4,139,-2,139,0,140,2,138,11,140,14,139,15,137,-15,135,-16,133,-12,133,-5,134,10,133,13,131,16,131,-18,128,-9,127,-6,125,-4,125,-1,129,3,129,9,128,-8,124,14,124,18,126,-14,122,-10,120,-9,118,1,124,9,122,12,122,19,122,-11,116,-6,116,-2,115,2,116,10,118,14,119,-14,113,-8,112,-3,113,-1,114,3,110,9,113,-15,108,6,108,-7,107,12,107,-1,106,17,106,-11,105,2,105,-18,104,8,104,-4,103,14,103,-13,102,19,102,1,101,-8,101,5,100,-17,100,11,99,-2,99,-20,98,16,98,-10,97,4,97,-6,97,20,96,-15,96,9,96,-1,95,13,95,-19,94,-4,94,6,94,-12,93,18,93,1,92,-8,92,10,92,-16,91,15,91,-2,90,-20,90,5,90,-10,89,19,89,-5,89,12,88,-14,88,2,88,8,87,-18,87,-1,87,16,86,-7,86,-11,86,4,85,20,85,-3,85,-15,84,10,84,-19,84,14,83,1,83,-8,83,6,82,-13,82,18,82,-1,81,-5,81,-20,80,11,80,3,80,-10,79,15,79,-16,79,7,78,-3,78,-18,78,20,77,-7,77,0,77,12,76,-13,76,5,76,-19,75,17,75,-5,75,9,74,-10,74,1,74,-15,73,14,73,-2,73,-20,72,6,72,19,71,-8,71,-12,71,3,70,11,70,-17,70,-4,69,16,69,-1,68,8,68,-14,68,-19,67,4,67,-9,67,13,66,-6,66,19,66,-16,65,1,65,-20,64,10,64,-3,64,15,63,-12,63,6,63,-18,62,-8,62,-1,61,12,61,3,61,-15,60,18,60,-5,60,8,59,-19,59,-11,58,0,58,14,58,-7,57,-16,57,5,56,11,56,-2,56,19,55,-13,55,2,54,-9,54,-4,53,14,54,-18,51,-8,50,-5,49,0,51,4,50,9,50,19,50,-13,48,-8,47,3,48,7,47,13,47,17,47,-18,45,-3,45,-1,44,3,44,6,45,14,45,-18,43,-12,44,-13,41,-3,43,2,41,8,42,16,42,-15,39,-12,40,-1,37,3,38,6,37,9,38,-11,37,-19,36,14,37,17,40,15,36,18,37,18,35,16,34,19,33,-19,30,-18,30,-15,30,-10,26,-2,30,1,28,4,33,-18,28,-13,26,-8,24,-3,23,1,22,3,24,-18,25,9,27,15,25,17,28,13,27,18,28,16,26,-18,19,-19,13,-11,22,-2,19,10,19,15,21,16,14,-14,10,-7,9,-5,8,-14,2,-14,-8,-2,-7];

    const dotsILeft = [7,192,-11,186,-6,181,3,187,-5,178,-4,178,-1,180,-9,176,1,176,12,176,-14,170,-15,169,-1,167,3,167,5,170,18,169,18,168,-11,166,-8,165,-3,164,0,165,9,167,5,168,-15,164,-16,155,-18,153,-6,161,-4,160,0,162,9,164,15,164,2,155,-7,154,10,158,-5,153,-14,152,-7,150,-2,150,4,152,6,150,-18,149,-17,147,-14,148,-4,150,5,149,8,150,16,156,18,155,17,153,-18,146,-11,144,-9,144,-5,145,2,143,5,146,13,144,19,146,-15,143,-12,141,-2,143,1,142,9,142,15,141,17,142,-13,137,-7,136,-4,139,3,139,-1,138,7,137,11,138,14,136,-17,133,-13,135,-8,134,-2,133,0,131,8,133,14,133,19,135,-19,131,-13,130,-9,131,-5,132,9,131,17,132,-12,128,-9,126,-3,128,-1,126,10,128,14,127,-15,123,-10,124,-4,121,1,123,5,123,10,122,16,122,19,121,-17,121,-11,120,-7,119,-2,118,1,115,6,117,13,117,19,119,-17,115,-13,117,-9,115,-3,115,0,116,7,114,14,116,-18,112,-14,114,-10,113,-5,112,-1,110,4,110,11,111,15,110,-19,108,-14,109,-9,110,-4,109,1,106,6,107,12,109,19,108,-20,109,-16,107,-11,105,-6,106,-1,106,4,105,10,105,18,106,-19,101,-15,103,-8,102,-3,102,2,101,8,102,14,102,19,104,-18,100,-13,98,-6,99,-1,100,5,97,10,100,15,100,-18,97,-14,96,-11,95,-3,95,2,96,8,97,-14,93,-11,93,-7,92,-1,94,4,92,10,93,14,93,17,95,-14,92,-10,91,-4,91,4,91,11,90,17,90,-18,86,-12,85,-9,87,-3,89,1,87,6,87,10,87,-16,81,-13,84,-11,85,-2,84,-1,84,6,81,12,83,14,83,-18,82,-17,81,-8,78,-2,79,1,81,8,79,15,76,13,77,14,75,-16,74,-14,78,-1,74,3,75,9,75,-13,70,-12,71,-11,71,-4,70,0,70,4,72,7,68,-13,68,-9,68,-6,65,3,64,10,65,14,66,-20,63,-18,65,-18,62,5,58,6,56,-9,58,-19,50,-12,53,0,48,14,43,18,45,6,37,18,35];
    const dotsIRight = [-4,131,2,130,8,127,-17,122,17,121,18,122,12,120,19,118,12,117,-19,116,-3,119,-4,115,-4,114,13,114,11,113,19,113,16,111,5,112,-7,112,-2,110,0,109,-18,109,-3,108,-1,105,18,108,18,105,16,106,-19,107,-17,106,-11,107,-16,104,-9,105,2,106,4,105,6,105,11,104,-8,102,-6,103,-2,102,3,101,-8,100,-7,100,8,100,14,100,18,101,-14,98,-10,99,-1,99,5,99,17,98,-19,96,-6,96,12,97,-12,95,3,95,19,96,-16,94,8,94,-2,93,14,93,-19,92,-8,92,0,91,-13,90,18,90,5,90,-4,89,10,88,-20,88,-16,87,15,87,-8,87,1,86,-11,85,7,85,19,85,-3,84,-18,84,12,83,-14,83,3,82,-6,81,17,81,-20,81,9,80,-10,80,0,79,14,79,-16,79,6,78,-3,78,-19,77,19,77,-8,76,11,76,-13,75,2,75,-5,74,16,74,-20,74,8,73,-10,73,-1,72,14,72,-16,72,4,71,-7,71,19,71,-12,70,10,70,-18,70,1,69,-3,69,15,68,6,68,-9,68,-20,67,12,67,-15,66,-2,66,18,66,3,65,-6,65,9,65,-12,64,14,64,-18,64,0,63,-8,63,20,63,6,62,-3,62,-15,62,11,61,-19,61,2,60,-10,60,16,60,-5,59,8,59,-13,59,19,58,-1,58,-17,58,4,57,13,57,-7,57,-20,56,9,56,-11,55,1,55,17,55,-4,54,6,54,-15,54,12,53,-9,53,20,53,-19,52,-1,52,3,51,15,51,-6,51,-12,50,8,50,-17,49,-3,49,13,49,1,48,19,48,-9,48,5,47,-20,47,10,47,-14,46,-5,46,16,46,0,45,-11,45,7,45,-18,44,-2,44,12,44,3,43,-8,43,19,43,-15,42,9,42,-4,42,-20,41,14,41,-11,41,1,40,6,40,-7,40,17,39,-17,39,-1,39,11,38,-13,38,4,38,-4,37,20,37,-19,36,8,36,-9,36,0,35,15,35,-14,35,-5,34,5,34,-20,34,-18,33,10,33,19,33,-2,32,-13,32,3,31,14,33,20,31,-1,29,0,28,3,28,17,28,-18,28,-9,27,-16,20,-16,21,-15,15,-6,18,-6,17,-6,14,-3,18,12,18,4,14,-15,3,-2,3,18,1];

    const dotsJLeft = [-9,218,4,218,-10,207,-15,199,-15,196,-14,192,-15,186,-11,188,13,191,16,188,16,186,-3,188,2,186,3,185,12,183,16,178,17,178,19,175,18,173,19,171,-16,172,-12,177,-10,177,-9,177,-6,176,4,177,-3,174,-2,171,-8,172,14,172,5,174,-16,168,-11,166,-14,163,-6,165,-5,167,-4,165,4,165,8,165,-2,161,-17,161,18,163,18,162,16,161,-12,158,-6,158,-3,157,1,157,3,157,11,160,-15,155,-16,152,-12,154,-5,154,-2,154,5,153,13,152,18,152,-10,151,-7,150,-3,150,2,148,9,152,-13,147,-10,146,-7,146,-1,146,4,147,13,145,-16,142,-14,142,-9,144,-3,144,2,145,5,143,-19,141,-10,141,-4,140,8,142,16,140,-20,138,-16,139,-8,137,-3,137,1,136,5,139,14,138,19,140,-19,133,-15,134,-11,132,-6,133,0,133,7,133,10,135,17,133,-19,130,-14,129,-9,129,-4,127,2,129,6,130,11,131,17,130,-20,127,-14,126,-8,124,-2,125,4,126,8,127,13,128,19,127,-19,123,-12,124,-7,121,-4,122,3,121,6,124,10,122,19,124,-17,120,-13,119,-9,120,-4,119,1,118,6,120,14,120,19,118,-19,116,-15,116,-10,114,-4,115,1,113,5,116,14,115,18,117,-19,113,-16,112,-13,110,-5,110,-2,113,3,112,11,114,14,113,-20,108,-13,108,-8,109,-3,106,3,106,6,110,16,109,18,104,-18,105,-13,104,-7,105,-4,102,4,104,12,105,15,102,19,105,-17,100,-14,100,-9,102,-2,100,3,100,8,98,-12,94,-10,93,-3,95,4,94,9,95,14,97,-18,90,-16,91,-11,87,-9,87,1,89,4,91,6,92,-20,87,-18,82,-17,84,-10,85,-9,82,-3,84,8,83,9,81,19,84,-17,77,-14,75,-12,76,-5,78,-4,72,8,76,9,70,14,75,-18,76,-18,71,-18,68,-6,73,5,73,15,72,-13,59,-12,60,-10,56,-2,67,-4,64,6,62,15,65,-10,55,-11,60,9,57,-11,38,10,41,5,34,3,52];
    const dotsJRight = [-3,160,15,157,16,157,-8,153,-8,147,-15,146,8,144,12,144,2,143,10,141,11,142,-18,132,-9,134,-7,135,-5,134,-3,135,6,134,10,138,-14,128,17,139,16,134,-18,129,-12,127,-15,129,1,131,5,130,13,129,-8,127,-7,126,-1,126,2,124,7,120,14,122,19,123,-14,120,-12,116,-8,116,-4,118,-2,117,4,118,12,118,18,118,-16,116,-13,113,-6,112,0,112,5,113,11,115,15,117,-18,110,8,109,-3,108,17,110,-14,107,3,107,-8,106,-20,106,12,106,-1,105,19,105,-16,104,6,104,-10,103,15,102,-5,102,1,102,-19,101,9,100,-13,100,18,100,-3,99,4,99,-8,98,13,98,-15,97,-20,97,0,96,7,96,19,96,-11,95,-6,95,15,94,-18,94,2,93,10,93,-14,92,-2,92,6,91,-9,91,18,90,-19,90,12,90,-4,89,1,89,-13,88,8,88,-16,87,20,87,4,86,-7,86,14,86,-1,85,-19,85,9,84,-11,84,17,84,-5,83,2,83,-15,82,12,82,-20,81,6,81,-8,81,19,80,-2,80,-13,79,15,79,3,79,-6,78,-17,78,10,78,0,77,-10,77,18,77,-3,76,7,76,-15,75,13,75,-19,75,-7,74,2,74,-12,74,19,73,5,73,-1,72,-17,72,11,72,-9,71,16,71,-4,71,-20,70,8,70,1,69,-14,69,14,69,-6,68,-11,68,4,68,19,67,-18,67,-2,66,10,66,-9,66,15,65,-15,65,2,65,-5,64,7,64,-20,64,-12,63,18,63,0,63,-7,62,12,62,-17,62,5,61,-3,61,-13,60,16,60,-19,60,9,59,-9,59,1,59,-5,58,14,58,-16,58,19,57,-1,57,6,56,-11,56,-20,56,11,55,3,55,-7,55,-15,54,17,54,-3,53,8,53,-18,53,-10,52,13,52,1,52,-5,51,19,51,-14,50,5,50,-1,50,10,49,-19,49,-8,48,15,48,2,48,-12,47,-4,47,7,47,-17,46,19,46,12,45,-1,45,-10,45,-20,44,4,44,14,44,-7,43,-15,43,-2,42,9,42,-15,41,-12,40,-8,38,-3,39,4,40,-12,37,-13,35,-12,34,-4,35,0,37,6,36,-7,33,-3,33,1,34,12,33,15,36,-15,33,-6,29,-2,29,1,30,10,31,-20,24,-18,24,-16,25,-13,23,-17,19,-15,21,-10,22,-4,26,-2,28,2,18,8,20,11,19,15,20,18,24,17,24,16,21,-18,16,-16,16,-12,15,-5,5,-15,18,-14,14,13,20,13,9,16,6,20,13,2,-9,11,-3];

    const allOutlines = [[outlineALeft, outlineARight], [outlineBLeft, outlineBRight], [outlineCLeft, outlineCRight], [outlineDLeft, outlineDRight], [outlineELeft, outlineERight],
      [outlineFLeft, outlineFRight], [outlineGLeft, outlineGRight], [outlineHLeft, outlineHRight], [outlineILeft, outlineIRight], [outlineJLeft, outlineJRight]];
    const allDots = [[dotsALeft, dotsARight], [dotsBLeft, dotsBRight], [dotsCLeft, dotsCRight], [dotsDLeft, dotsDRight], [dotsELeft, dotsERight],
      [dotsFLeft, dotsFRight], [dotsGLeft, dotsGRight], [dotsHLeft, dotsHRight], [dotsILeft, dotsIRight], [dotsJLeft, dotsJRight]];

    // layout, in pixels of the 4917 wide original
    const scale = 4096 / 4917;
    const panelLeft = [92, 1069, 2038, 3015, 3993, 83, 1069, 2038, 3015, 3993];
    const panelRight = [860, 1837, 2814, 3792, 4769, 860, 1837, 2815, 3792, 4770];
    const panelTop = [156, 156, 156, 156, 156, 1098, 1098, 1098, 1098, 1098];
    const panelHeight = 624.5;
    const titleCenter = [493, 1471, 2448, 3425, 4404, 493, 1470, 2448, 3424, 4403];
    const titleWidth = [821, 824, 748, 945, 544, 786, 533, 524, 621, 890];
    const letterX = [25, 1005, 1982, 2955, 3935, 30, 1003, 1982, 2970, 3942];
    const letterY = [61, 61, 61, 61, 61, 986, 986, 986, 986, 986];

    let svg = d3.select("body")
      .append("svg")
      .attr("width", 4096)
      .attr("height", 1750);

    let root = svg.append("g").attr("transform", `scale(${scale})`);

    const pairs = (flat) => d3.range(0, flat.length, 2).map(i => [flat[i], flat[i + 1]]);

    const tickText = d3.format(".2f");

    titles.forEach((title, p) => {
      const left = panelLeft[p];
      const right = panelRight[p];
      const top = panelTop[p];
      const bottom = top + panelHeight;

      const x = d3.scaleLinear().domain([0.4, 2.6]).range([left, right]);
      const y = d3.scaleLinear().domain(yDomains[p]).range([bottom, top]);

      let g = root.append("g");

      // letter and title
      g.append("text")
        .attr("x", letterX[p])
        .attr("y", letterY[p])
        .style("font-weight", 700)
        .style("font-size", "62px")
        .attr("fill", "#5b5b5b")
        .text(letters[p]);

      g.append("text")
        .attr("x", titleCenter[p])
        .attr("y", top - 19)
        .attr("text-anchor", "middle")
        .attr("textLength", titleWidth[p])
        .attr("lengthAdjust", "spacingAndGlyphs")
        .style("font-size", "45px")
        .attr("fill", "#000")
        .text(title);

      // panel and grid
      g.append("rect")
        .attr("x", left)
        .attr("y", top)
        .attr("width", right - left)
        .attr("height", panelHeight)
        .attr("fill", "#EBEBEB");

      g.selectAll(".minor").data(yMinor[p]).join("line")
        .attr("x1", left).attr("x2", right)
        .attr("y1", d => y(d)).attr("y2", d => y(d))
        .attr("stroke", "#fff").attr("stroke-width", 0.9);

      g.selectAll(".major").data(yTicks[p]).join("line")
        .attr("x1", left).attr("x2", right)
        .attr("y1", d => y(d)).attr("y2", d => y(d))
        .attr("stroke", "#fff").attr("stroke-width", 1.8);

      g.selectAll(".catline").data([1, 2]).join("line")
        .attr("x1", d => x(d)).attr("x2", d => x(d))
        .attr("y1", top).attr("y2", bottom)
        .attr("stroke", "#fff").attr("stroke-width", 1.8);

      // violins then the jittered points
      allOutlines[p].forEach((outline, c) => {
        const area = d3.area()
          .x0(d => x(c + 1 - d[1] / 100))
          .x1(d => x(c + 1 + d[1] / 100))
          .y(d => y(d[0] / 1000))
          .curve(d3.curveCatmullRom.alpha(0.5));

        g.append("path")
          .attr("d", area(pairs(outline)))
          .attr("fill", sideColors[c])
          .attr("stroke", "#333")
          .attr("stroke-width", 1.6);
      });

      allDots[p].forEach((dots, c) => {
        g.append("g").selectAll("circle").data(pairs(dots)).join("circle")
          .attr("cx", d => x(c + 1 + d[0] / 100))
          .attr("cy", d => y(d[1] / 1000))
          .attr("r", 3.5)
          .attr("fill", "#000");
      });

      // bracket with the p value
      g.append("path")
        .attr("d", `M${x(1)},${top + 44}V${top + 28}H${x(2)}V${top + 44}`)
        .attr("fill", "none")
        .attr("stroke", "#333")
        .attr("stroke-width", 1.2);

      g.append("text")
        .attr("x", (x(1) + x(2)) / 2)
        .attr("y", top + 23)
        .attr("text-anchor", "middle")
        .style("font-size", "18px")
        .attr("fill", "#1a1a1a")
        .text(pLabels[p]);

      // axes
      let yAxis = g.append("g")
        .attr("transform", `translate(${left},0)`)
        .call(d3.axisLeft(y).tickValues(yTicks[p]).tickSize(4).tickPadding(3)
          .tickFormat(d => tickText(d).replace("-", "\u2212")));

      let xAxis = g.append("g")
        .attr("transform", `translate(0,${bottom})`)
        .call(d3.axisBottom(x).tickValues([1, 2]).tickSize(4).tickPadding(3)
          .tickFormat(d => categories[d - 1]));

      [yAxis, xAxis].forEach(axis => {
        axis.select(".domain").remove();
        axis.selectAll("line").attr("stroke", "#333").attr("stroke-width", 1.3);
        axis.selectAll("text").attr("fill", "#4D4D4D").style("font-size", "16px")
          .style("font-family", "'Liberation Sans', Arial, sans-serif");
      });

      g.append("text")
        .attr("transform", `translate(${left + (yDomains[p][0] < -0.02 ? -55 : -47)},${(top + bottom) / 2}) rotate(-90)`)
        .attr("text-anchor", "middle")
        .style("font-size", "19px")
        .attr("fill", "#000")
        .text(yLabels[p]);

      g.append("text")
        .attr("x", (left + right) / 2)
        .attr("y", bottom + 41)
        .attr("text-anchor", "middle")
        .style("font-size", "19px")
        .attr("fill", "#000")
        .text("Tumor cluster");

      // side legend
      const legendX = right + 28;
      g.append("text")
        .attr("x", legendX)
        .attr("y", top + 286)
        .style("font-size", "20px")
        .attr("fill", "#000")
        .text("Side");

      categories.forEach((cat, c) => {
        g.append("rect")
          .attr("x", legendX + 1)
          .attr("y", top + 297.5 + c * 29)
          .attr("width", 27)
          .attr("height", 27)
          .attr("fill", sideColors[c])
          .attr("stroke", "#333")
          .attr("stroke-width", 1.6);

        g.append("text")
          .attr("x", legendX + 39)
          .attr("y", top + 317 + c * 29)
          .style("font-size", "16px")
          .attr("fill", "#000")
          .text(cat);
      });
    });

    // legend at the bottom of the figure
    const figureLegend = ["HCC1-R immune poor tumor region", "HCC1-R immune rich tumor region"];
    const figureColors = ["#FC7A70", "#29C1C6"];
    const figureBoxY = [1882, 2010];
    const figureBoxH = [96, 91];
    const figureTextY = [1953, 2083];
    const figureTextW = [1019, 992];

    figureLegend.forEach((label, i) => {
      root.append("rect")
        .attr("x", 1755)
        .attr("y", figureBoxY[i])
        .attr("width", 96)
        .attr("height", figureBoxH[i])
        .attr("fill", figureColors[i]);

      root.append("text")
        .attr("x", 1863)
        .attr("y", figureTextY[i])
        .attr("textLength", figureTextW[i])
        .attr("lengthAdjust", "spacingAndGlyphs")
        .style("font-size", "64px")
        .attr("fill", "#000")
        .text(label);
    });
  </script>
</body>

</html>
